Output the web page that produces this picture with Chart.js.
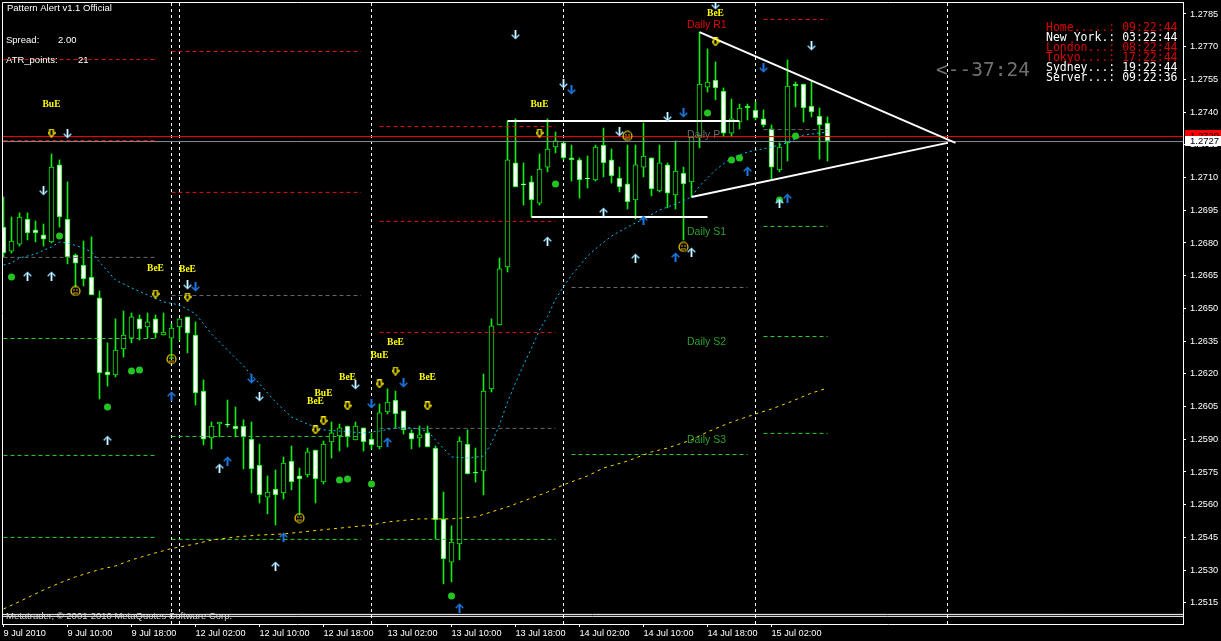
<!DOCTYPE html>
<html>
<head>
<meta charset="utf-8">
<title>Pattern Alert</title>
<script src="https://cdn.jsdelivr.net/npm/chart.js@4"></script>
<style>
  html, body { margin: 0; padding: 0; background: #000; }
  canvas { display: block; }
</style>
</head>
<body>
<canvas id="myChart" width="1221" height="641"></canvas>
<script>
// hourly candles
const opens = [
  1.26873,1.26763,1.26795,1.26910,1.26860,1.26837,1.26805,1.27158,1.26910,1.26745,1.26699,1.26644,1.26548,
  1.26209,1.26195,1.26314,1.26364,1.26452,1.26415,1.26452,1.26378,1.26364,1.26415,1.26461,1.26378,1.26121,
  1.25906,1.25970,1.25970,1.25961,1.25961,1.25901,1.25782,1.25635,1.25672,1.25654,1.25800,1.25732,1.25736,
  1.25851,1.25704,1.25888,1.25915,1.25961,1.25897,1.25952,1.25901,1.25865,1.26025,1.26080,1.26030,1.25929,
  1.25906,1.25929,1.25860,1.25535,1.25337,1.25420,1.25878,1.25750,1.25755,1.26131,1.26424,1.26690,1.27167,
  1.27071,1.27080,1.26983,1.27148,1.27240,1.27259,1.27190,1.27181,1.27098,1.27089,1.27249,1.27181,1.27098,
  1.27071,1.26997,1.27148,1.27190,1.27039,1.27158,1.27020,1.27121,1.27080,1.27291,1.27515,1.27547,1.27497,
  1.27304,1.27355,1.27428,1.27410,1.27369,1.27323,1.27135,1.27259,1.27529,1.27529,1.27428,1.27382,1.27350
];
const highs = [
  1.27011,1.26919,1.26938,1.26938,1.26901,1.26887,1.27208,1.27181,1.27080,1.26750,1.26809,1.26828,1.26580,
  1.26342,1.26452,1.26488,1.26479,1.26470,1.26479,1.26470,1.26479,1.26429,1.26452,1.26461,1.26438,1.26172,
  1.25979,1.25979,1.26080,1.26048,1.25989,1.25979,1.25878,1.25732,1.25759,1.25819,1.25869,1.25768,1.25860,
  1.25851,1.25892,1.25979,1.25970,1.25961,1.25979,1.25952,1.25929,1.26062,1.26131,1.26121,1.26030,1.25943,
  1.25961,1.25961,1.25869,1.25658,1.25503,1.25911,1.25943,1.25860,1.26199,1.26452,1.26731,1.27359,1.27369,
  1.27167,1.27107,1.27208,1.27369,1.27309,1.27259,1.27249,1.27190,1.27199,1.27249,1.27327,1.27231,1.27148,
  1.27249,1.27249,1.27350,1.27190,1.27249,1.27167,1.27268,1.27148,1.27286,1.27767,1.27690,1.27630,1.27511,
  1.27460,1.27437,1.27437,1.27447,1.27410,1.27341,1.27259,1.27639,1.27538,1.27529,1.27543,1.27419,1.27378
];
const lows = [
  1.26736,1.26754,1.26786,1.26814,1.26805,1.26786,1.26800,1.26873,1.26704,1.26598,1.26603,1.26562,1.26085,
  1.26144,1.26186,1.26277,1.26342,1.26355,1.26364,1.26364,1.26378,1.26268,1.26355,1.26296,1.26057,1.25874,
  1.25856,1.25911,1.25956,1.25911,1.25764,1.25654,1.25608,1.25558,1.25507,1.25626,1.25668,1.25553,1.25727,
  1.25608,1.25695,1.25814,1.25846,1.25865,1.25897,1.25846,1.25856,1.25856,1.26016,1.25952,1.25924,1.25856,
  1.25865,1.25865,1.25443,1.25237,1.25246,1.25347,1.25741,1.25704,1.25645,1.26117,1.26424,1.26667,1.27057,
  1.26974,1.26919,1.26974,1.27126,1.27213,1.27181,1.27084,1.27006,1.27052,1.27084,1.27103,1.27075,1.27034,
  1.26956,1.26910,1.27103,1.27016,1.27034,1.26961,1.26956,1.26814,1.27011,1.27236,1.27492,1.27456,1.27286,
  1.27286,1.27323,1.27364,1.27364,1.27332,1.27089,1.27126,1.27176,1.27424,1.27355,1.27378,1.27185,1.27176
];
const closes = [
  1.26754,1.26809,1.26919,1.26846,1.26846,1.26818,1.27148,1.26919,1.26736,1.26708,1.26635,1.26562,1.26204,
  1.26195,1.26309,1.26378,1.26461,1.26406,1.26438,1.26387,1.26392,1.26410,1.26452,1.26387,1.26112,1.25901,
  1.25961,1.25979,1.25966,1.25947,1.25911,1.25764,1.25645,1.25658,1.25645,1.25791,1.25704,1.25718,1.25842,
  1.25718,1.25878,1.25929,1.25952,1.25911,1.25961,1.25888,1.25874,1.26021,1.26071,1.26016,1.25943,1.25901,
  1.25920,1.25865,1.25530,1.25351,1.25429,1.25892,1.25741,1.25745,1.26121,1.26420,1.26681,1.27181,1.27057,
  1.27066,1.26997,1.27139,1.27231,1.27268,1.27190,1.27181,1.27089,1.27094,1.27240,1.27167,1.27107,1.27057,
  1.26988,1.27158,1.27199,1.27048,1.27167,1.27029,1.27130,1.27071,1.27286,1.27529,1.27538,1.27511,1.27304,
  1.27369,1.27419,1.27419,1.27373,1.27341,1.27148,1.27240,1.27520,1.27520,1.27419,1.27401,1.27341,1.27268
];

const xTickBars = [0, 8, 16, 24, 32, 40, 48, 56, 64, 72, 80, 88, 96];
const xTickLabels = ['9 Jul 2010', '9 Jul 10:00', '9 Jul 18:00', '12 Jul 02:00', '12 Jul 10:00', '12 Jul 18:00',
  '13 Jul 02:00', '13 Jul 10:00', '13 Jul 18:00', '14 Jul 02:00', '14 Jul 10:00', '14 Jul 18:00', '15 Jul 02:00'];
const yTicks = [1.2785, 1.2770, 1.2755, 1.2740, 1.2725, 1.2710, 1.2695, 1.2680, 1.2665, 1.2650, 1.2635,
  1.2620, 1.2605, 1.2590, 1.2575, 1.2560, 1.2545, 1.2530, 1.2515];

// moving averages [bar, price]
const fastMa = [[0,1.26699],[1,1.26708],[2,1.26731],[4,1.26750],[6,1.26782],[7,1.26805],[8,1.26800],[10,1.26777],
  [11,1.26759],[12,1.26713],[14,1.26630],[16,1.26594],[18,1.26562],[20,1.26530],[22,1.26516],[24,1.26475],
  [26,1.26383],[28,1.26309],[30,1.26236],[32,1.26154],[34,1.26071],[36,1.26002],[38,1.25970],[40,1.25943],
  [42,1.25938],[45,1.25929],[47,1.25938],[49,1.25952],[51,1.25952],[53,1.25938],[54,1.25897],[56,1.25819],
  [58,1.25814],[60,1.25823],[61,1.25883],[62,1.25966],[63,1.26071],[64,1.26158],[65,1.26241],[66,1.26317],
  [67,1.26401],[68,1.26462],[69,1.26542],[70,1.26600],[71,1.26653],[72,1.26695],[73,1.26740],[74,1.26773],
  [76,1.26832],[78,1.26873],[80,1.26910],[82,1.26951],[84,1.26979],[86,1.27011],[87,1.27061],[89,1.27135],
  [91,1.27190],[93,1.27217],[96,1.27240],[98,1.27259],[100,1.27295],[103,1.27309]];
const slowMa = [[0,1.25122],[2,1.25156],[5,1.25209],[7,1.25241],[9,1.25269],[12,1.25303],[14,1.25319],[16,1.25347],
  [19,1.25379],[21,1.25399],[24,1.25420],[26,1.25438],[29,1.25452],[32,1.25461],[35,1.25466],[41,1.25489],
  [46,1.25507],[48,1.25521],[52,1.25535],[56,1.25535],[59,1.25544],[63,1.25590],[65,1.25617],[68,1.25658],
  [70,1.25691],[73,1.25732],[75,1.25768],[78,1.25800],[81,1.25842],[83,1.25860],[86,1.25897],[88,1.25934],
  [91,1.25979],[94,1.26016],[96,1.26039],[98,1.26066],[101,1.26112],[103,1.26135]];

// pivot segments [firstBar, lastBar, price]
const redLevels = [[0,19,1.27641],[0,19,1.27270],[21,44.7,1.27678],[21,44.7,1.27032],[47,69,1.27334],[47,69,1.26899],
  [47,69,1.26390],[95,103,1.27825]];
const greyLevels = [[0,19,1.26734],[21,44.7,1.26559],[47,69,1.25950],[71,93,1.26596],[95,103,1.27320]];
const greenLevels = [[0,19,1.26362],[0,19,1.25826],[0,19,1.25450],[21,44.7,1.25913],[21,44.7,1.25441],[47,69,1.25441],
  [71,93,1.25830],[95,103,1.26876],[95,103,1.26371],[95,103,1.25927]];

const separatorBars = [21, 22, 46, 70, 94, 118];
const bidPrice = 1.27288;
const askPrice = 1.27265;
const footerPrices = [1.25097, 1.25088];

// hand drawn trend lines [bar, price, bar, price]
const whiteLines = [[63,1.27359,92,1.27359],[66,1.26919,88,1.26919],[87,1.27767,119,1.27259],[86,1.27011,118,1.27259]];

// signals [bar, price]
const hollowArrows = [[6,1.27304],[19,1.26566],[23,1.26552],[40,1.25984],[39,1.25943],[43,1.26053],[47,1.26154],
  [49,1.26213],[53,1.26053],[67,1.27304],[89,1.27722]];
const lightDown = [[8,1.27300],[5,1.27039],[23,1.26607],[32,1.26094],[44,1.26149],[64,1.27754],[70,1.27529],
  [77,1.27309],[83,1.27378],[101,1.27703],[89,1.27891]];
const blueDown = [[24,1.26598],[31,1.26176],[46,1.26062],[50,1.26158],[71,1.27502],[85,1.27396],[95,1.27602]];
const lightUp = [[3,1.26649],[6,1.26649],[13,1.25896],[27,1.25768],[34,1.25319],[68,1.26809],[75,1.26942],
  [79,1.26731],[86,1.26759],[97,1.26984]];
const blueUp = [[21,1.26099],[28,1.25801],[35,1.25452],[48,1.25888],[57,1.25127],[80,1.26905],[84,1.26736],
  [93,1.27130],[98,1.27006]];
const greenDots = [[1,1.26644],[7,1.26832],[13,1.26048],[16,1.26213],[17,1.26218],[42,1.25713],[43,1.25718],
  [46,1.25695],[56,1.25181],[69,1.27071],[88,1.27396],[91,1.27181],[92,1.27190],[99,1.27291],[97,1.26997]];
const smileys = [[9,1.26580],[21,1.26268],[37,1.25539],[78,1.27291],[85,1.26782]];

const patternNames = ['BuE','BeE','BeE','BeE','BuE','BeE','BuE','BeE','BeE','BuE','BeE'];
const patternSpots = [[6,1.27433],[19,1.26685],[23,1.26676],[39,1.26071],[40,1.26108],[43,1.26181],[47,1.26282],
  [49,1.26342],[53,1.26181],[67,1.27433],[89,1.27850]];
const dailyNames = ['Daily R1', 'Daily P', 'Daily S1', 'Daily S2', 'Daily S3'];
const dailyPrices = [1.27800, 1.27295, 1.26851, 1.26346, 1.25897];
const clockLines = ['Home.....: 09:22:44', 'New York.: 03:22:44', 'London...: 08:22:44', 'Tokyo....: 17:22:44',
  'Sydney...: 19:22:44', 'Server...: 09:22:36'];

const LIME = '#12ea12';

const makeIcon = (w, h, paint) => {
  const c = document.createElement('canvas');
  c.width = w; c.height = h;
  paint(c.getContext('2d'));
  return c;
};
const arrowIcon = (up, main, mid) => makeIcon(9, 10, (g) => {
  if (up) { g.translate(0, 10); g.scale(1, -1); }
  g.lineWidth = 1.5;
  g.strokeStyle = main;
  g.beginPath(); g.moveTo(0.7, 4.7); g.lineTo(4.5, 8.5); g.lineTo(8.3, 4.7); g.stroke();
  g.lineWidth = 2;
  g.beginPath(); g.moveTo(4.5, 0); g.lineTo(4.5, 8); g.stroke();
  g.lineWidth = 1;
  g.strokeStyle = mid;
  g.beginPath(); g.moveTo(4.5, 0); g.lineTo(4.5, 8); g.stroke();
});
const hollowIcon = makeIcon(8, 9, (g) => {
  g.strokeStyle = '#ffee00';
  g.lineWidth = 1.3;
  g.beginPath();
  g.moveTo(2.2, 0.7); g.lineTo(5.8, 0.7); g.lineTo(5.8, 4.2); g.lineTo(7.4, 4.2);
  g.lineTo(4, 8.2); g.lineTo(0.6, 4.2); g.lineTo(2.2, 4.2); g.closePath();
  g.stroke();
});
const smileyIcon = makeIcon(11, 11, (g) => {
  g.strokeStyle = '#f0d000';
  g.lineWidth = 1.2;
  g.beginPath(); g.arc(5.5, 5.5, 4.5, 0, Math.PI * 2); g.stroke();
  g.fillStyle = '#d8a800';
  g.fillRect(3, 4, 2, 1); g.fillRect(6, 4, 2, 1); g.fillRect(3, 7, 5, 1);
});

const toXY = (list) => list.map((p) => ({ x: p[0], y: p[1] }));

const lineSet = (points, color, width, dash, order) => ({
  type: 'line',
  data: points,
  borderColor: color,
  borderWidth: width,
  borderDash: dash,
  pointRadius: 0,
  tension: 0,
  fill: false,
  order: order,
});
const levelSets = (levels, color) => levels.map((l) =>
  lineSet([{ x: l[0], y: l[2] }, { x: l[1], y: l[2] }], color, 1, [4, 3], 4));
const markSet = (list, style, radius, color) => ({
  type: 'scatter',
  data: toXY(list),
  pointStyle: style,
  pointRadius: radius,
  pointHoverRadius: radius,
  pointBorderWidth: 0,
  backgroundColor: color || '#000',
  borderColor: color || '#000',
  order: 1,
});

const Y_MAX = 1.27905;
const Y_MIN = 1.25053;
const X_MIN = -0.1875;
const X_MAX = 147.4375;

const datasets = [
  {
    label: 'wicks',
    data: opens.map((o, i) => ({ x: i, y: [lows[i], highs[i]] })),
    backgroundColor: LIME,
    borderWidth: 0,
    barThickness: 1,
    order: 6,
  },
  {
    label: 'bodies',
    data: opens.map((o, i) => ({ x: i, y: [Math.min(o, closes[i]), Math.max(o, closes[i])] })),
    backgroundColor: opens.map((o, i) => (closes[i] < o ? '#ffffff' : '#000000')),
    borderColor: LIME,
    borderWidth: 1,
    borderSkipped: false,
    barThickness: 5,
    order: 5,
  },
  ...separatorBars.map((b) => lineSet([{ x: b, y: Y_MIN }, { x: b, y: Y_MAX }], '#ffffff', 1, [3, 3], 8)),
  ...levelSets(redLevels, '#e01010'),
  ...levelSets(greyLevels, '#696969'),
  ...levelSets(greenLevels, '#32cd32'),
  lineSet(toXY(fastMa), '#00bfff', 1, [2, 3], 3),
  lineSet(toXY(slowMa), '#ffd700', 1, [3, 4], 3),
  lineSet([{ x: X_MIN, y: bidPrice }, { x: X_MAX, y: bidPrice }], '#ff0000', 1, [], 3),
  lineSet([{ x: X_MIN, y: askPrice }, { x: X_MAX, y: askPrice }], '#8a8f93', 1, [], 3),
  ...footerPrices.map((p) => lineSet([{ x: X_MIN, y: p }, { x: X_MAX, y: p }], '#ffffff', 1, [], 2)),
  ...whiteLines.map((l) => lineSet([{ x: l[0], y: l[1] }, { x: l[2], y: l[3] }], '#ffffff', 2, [], 2)),
  markSet(hollowArrows, hollowIcon, 5),
  markSet(lightDown, arrowIcon(false, '#8fd4fa', '#e6f6ff'), 5),
  markSet(blueDown, arrowIcon(false, '#1c78e0', '#1c78e0'), 5),
  markSet(lightUp, arrowIcon(true, '#8fd4fa', '#e6f6ff'), 5),
  markSet(blueUp, arrowIcon(true, '#1c78e0', '#1c78e0'), 5),
  markSet(greenDots, 'circle', 3.5, '#22c422'),
  markSet(smileys, smileyIcon, 5),
];

const UI_FONT = '9.5px "Liberation Sans"';

// frame, indicator texts and the price tags on the right
const overlay = {
  id: 'overlay',
  afterDraw(chart) {
    const { ctx, chartArea, scales } = chart;
    const text = (s, x, y, color, font, align) => {
      ctx.fillStyle = color;
      ctx.font = font;
      ctx.textAlign = align || 'left';
      ctx.textBaseline = 'middle';
      ctx.fillText(s, x, y);
    };
    ctx.save();
    ctx.strokeStyle = '#ffffff';
    ctx.lineWidth = 1;
    ctx.beginPath();
    ctx.moveTo(chartArea.left + 0.5, chartArea.bottom + 0.5);
    ctx.lineTo(chartArea.left + 0.5, chartArea.top + 0.5);
    ctx.lineTo(chartArea.right + 0.5, chartArea.top + 0.5);
    ctx.stroke();

    patternNames.forEach((n, i) => {
      const px = scales.x.getPixelForValue(patternSpots[i][0]);
      const py = scales.y.getPixelForValue(patternSpots[i][1]);
      text(n, px, py, '#ffff00', 'bold 9.5px "Liberation Serif"', 'center');
    });
    const dailyColors = ['#e80000', '#696969', '#2ca02c', '#2ca02c', '#2ca02c'];
    dailyNames.forEach((n, i) => {
      text(n, 687, scales.y.getPixelForValue(dailyPrices[i]), dailyColors[i], '10.5px "Liberation Sans"');
    });

    text('Pattern Alert v1.1 Official', 7, 8, '#ffffff', UI_FONT);
    text('Spread:', 6, 40, '#ffffff', UI_FONT);
    text('2.00', 58, 40, '#ffffff', UI_FONT);
    text('ATR_points:', 6, 60, '#ffffff', UI_FONT);
    text('21', 78, 60, '#ffffff', UI_FONT);
    text('Metatrader, \u00a9 2001-2010 MetaQuotes Software Corp.', 6, 616, '#d8d8d8', UI_FONT);

    const clockColors = ['#dc0000', '#ffffff', '#dc0000', '#dc0000', '#ffffff', '#ffffff'];
    clockLines.forEach((l, i) => {
      text(l, 1046, 28.5 + i * 10, clockColors[i], '11.5px "DejaVu Sans Mono"');
    });
    text('<--37:24', 936, 71, '#707070', '19.5px "DejaVu Sans Mono"');

    // price tags
    ctx.save();
    ctx.beginPath();
    ctx.rect(1185, 130, 36, 6);
    ctx.clip();
    ctx.fillStyle = '#ff0000';
    ctx.fillRect(1185, 130, 36, 6);
    text('1.2729', 1190, 136, '#000000', UI_FONT);
    ctx.restore();
    ctx.fillStyle = '#ffffff';
    ctx.fillRect(1185, 136, 36, 10);
    text('1.2727', 1190, 141, '#000000', UI_FONT);
    ctx.restore();
  },
};

Chart.defaults.font.family = '"Liberation Sans"';
Chart.defaults.font.size = 9.2;

new Chart(document.getElementById('myChart').getContext('2d'), {
  type: 'bar',
  data: { datasets: datasets },
  options: {
    responsive: false,
    animation: false,
    devicePixelRatio: 1,
    layout: { autoPadding: false, padding: { left: 2, top: 2, right: 0, bottom: 0 } },
    datasets: { bar: { grouped: false } },
    plugins: { legend: { display: false }, tooltip: { enabled: false } },
    scales: {
      x: {
        type: 'linear',
        min: X_MIN,
        max: X_MAX,
        offset: false,
        afterBuildTicks: (scale) => { scale.ticks = xTickBars.map((v) => ({ value: v })); },
        afterFit: (scale) => { scale.height = 17; scale.paddingLeft = 0; scale.paddingRight = 0; },
        grid: { drawOnChartArea: false, offset: false, tickLength: 3, tickColor: '#ffffff', color: '#ffffff' },
        border: { color: '#ffffff' },
        ticks: {
          color: '#ffffff',
          align: 'start',
          autoSkip: false,
          maxRotation: 0,
          padding: 1,
          callback: (v) => xTickLabels[xTickBars.indexOf(v)],
        },
      },
      y: {
        position: 'right',
        min: Y_MIN,
        max: Y_MAX,
        afterBuildTicks: (scale) => { scale.ticks = yTicks.map((v) => ({ value: v })); },
        afterFit: (scale) => { scale.width = 38; scale.paddingTop = 0; scale.paddingBottom = 0; },
        grid: { drawOnChartArea: false, tickLength: 3, tickColor: '#ffffff', color: '#ffffff' },
        border: { color: '#ffffff' },
        ticks: { color: '#ffffff', padding: 4, autoSkip: false, callback: (v) => v.toFixed(4) },
      },
    },
  },
  plugins: [overlay],
});
</script>
</body>
</html>
